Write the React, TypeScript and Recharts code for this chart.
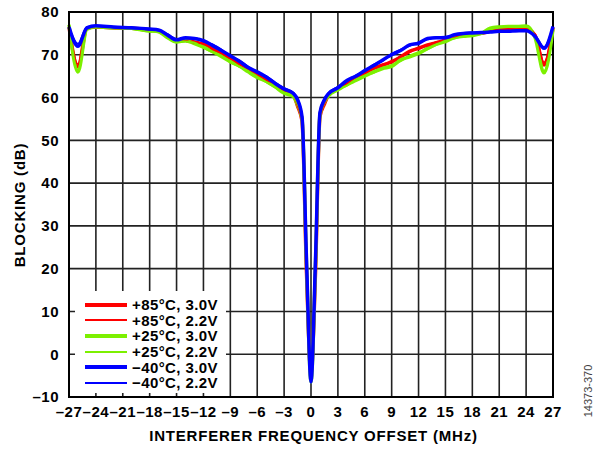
import React from 'react';
import {
  LineChart, Line, XAxis, YAxis, CartesianGrid, Legend, ReferenceArea
} from 'recharts';

const offsetsMHz = [-27, -26, -25, -24, -22, -20, -18, -17, -16, -15, -14, -13, -12, -11, -10, -9, -8, -7, -6, -5, -4, -3, -2, -1.5, -1, -0.5, 0, 0.5, 1, 1.5, 2, 3, 4, 5, 6, 7, 8, 9, 10, 11, 12, 13, 14, 15, 16, 17, 18, 19, 20, 21, 22, 23, 24, 25, 26, 27];

const hot30 = [76.5, 67.2, 76.2, 76.5, 76.3, 76.2, 75.8, 75.5, 74.2, 73.2, 73.4, 73, 72.5, 71.5, 70.2, 69, 68, 66.5, 65.3, 64.3, 63, 61.5, 60.6, 58, 54.5, 19, -4.5, 19, 55.5, 58.5, 60.7, 62, 63.5, 64.5, 65.8, 66.8, 67.5, 68.4, 69.5, 70.8, 71.5, 72.3, 72.8, 73.5, 74.2, 74.6, 74.8, 75, 75.5, 75.8, 75.9, 76, 76, 74.5, 67.6, 76.3];
const hot22 = [76.3, 67.8, 76.2, 76.4, 76.2, 76.1, 75.6, 75.6, 74.4, 73.4, 73.2, 72.8, 72.7, 71.3, 70.4, 69.2, 67.8, 66.7, 65.1, 64.1, 63.2, 61.6, 60.8, 58.2, 54.8, 20, -4, 20, 55.8, 58.8, 60.9, 62.2, 63.3, 64.7, 65.6, 67, 67.8, 68.2, 69.7, 70.6, 71.7, 72.1, 73, 73.4, 74, 74.7, 74.9, 75.1, 75.4, 75.9, 76, 75.9, 76.1, 74.8, 68.2, 76.2];
const room30 = [77, 66, 76, 76.5, 76.3, 76.2, 75.6, 75.4, 74, 73, 73.3, 72.6, 71.8, 70.8, 69.6, 68.4, 67.4, 66, 64.7, 63.8, 62.5, 61, 60.3, 58.3, 55, 21, -6.5, 21, 56, 59, 60.5, 61.8, 63, 64, 65, 66, 66.8, 67.3, 68.8, 69.5, 70.3, 71.5, 72.5, 73.1, 74, 74.3, 74.5, 75, 76.2, 76.5, 76.6, 76.6, 76.7, 74, 65.8, 76];
const room22 = [76.8, 66.5, 76.2, 76.4, 76.2, 76, 75.4, 75.5, 74.2, 73.2, 73.1, 72.8, 71.6, 70.6, 69.8, 68.2, 67.2, 66.2, 64.9, 63.6, 62.4, 61.2, 60.5, 58.6, 55.3, 21.5, -6, 21.5, 56.2, 59.2, 60.6, 62, 62.8, 64.2, 65.2, 65.8, 67, 67.6, 68.5, 69.8, 70.6, 71.3, 72.3, 73.3, 73.8, 74.4, 74.7, 75.2, 76, 76.4, 76.5, 76.5, 76.5, 74.2, 66.2, 75.8];
const cold30 = [76.5, 72, 76.3, 76.8, 76.5, 76.3, 76, 75.8, 74.6, 73.5, 74, 73.8, 73.3, 72.2, 71, 69.8, 68.5, 67, 66, 64.8, 63.3, 62, 61, 59.5, 55.5, 22, -6.5, 22, 56.5, 59.5, 61, 62.3, 64, 65, 66.3, 67.5, 68.8, 70, 71, 72.3, 72.7, 73.8, 74, 74, 74.7, 75, 75.1, 75.2, 75.3, 75.5, 75.5, 75.6, 75.6, 74.3, 71.5, 76.6];
const cold22 = [76.3, 72.6, 76.5, 76.7, 76.4, 76.2, 75.9, 75.7, 74.8, 73.7, 73.8, 73.9, 73.1, 72.4, 71.2, 69.6, 68.7, 67.2, 65.8, 65, 63.5, 62.2, 61.2, 59.7, 55.8, 22.5, -6, 22.5, 56.8, 59.7, 61.2, 62.5, 63.8, 65.2, 66.1, 67.7, 68.6, 70.2, 71.2, 72.1, 72.9, 73.6, 74.1, 74.2, 74.5, 75.1, 75.2, 75.1, 75.4, 75.4, 75.6, 75.5, 75.7, 74.5, 71.8, 76.4];

const xTicks = [-27, -24, -21, -18, -15, -12, -9, -6, -3, 0, 3, 6, 9, 12, 15, 18, 21, 24, 27];
const yTicks = [-10, 0, 10, 20, 30, 40, 50, 60, 70, 80];

const series = [
  { key: 'hot30', name: '+85°C, 3.0V', color: '#ff0000', width: 3.5 },
  { key: 'room30', name: '+25°C, 3.0V', color: '#7cf000', width: 3.5 },
  { key: 'hot22', name: '+85°C, 2.2V', color: '#ff0000', width: 2 },
  { key: 'room22', name: '+25°C, 2.2V', color: '#7cf000', width: 2 },
  { key: 'cold30', name: '\u221240°C, 3.0V', color: '#0000ff', width: 3.5 },
  { key: 'cold22', name: '\u221240°C, 2.2V', color: '#0000ff', width: 2 },
];
const legendOrder = ['hot30', 'hot22', 'room30', 'room22', 'cold30', 'cold22'];

const data = offsetsMHz.map((x, i) => ({
  x,
  hot30: hot30[i], hot22: hot22[i],
  room30: room30[i], room22: room22[i],
  cold30: cold30[i], cold22: cold22[i],
}));

const font = '"Liberation Sans", Arial, sans-serif';
const fmt = (v: number) => (v < 0 ? '\u2013' + Math.abs(v) : String(v));

function LegendBox() {
  return (
    <div style={{ background: '#fff', width: 151, height: 102, paddingTop: 6, boxSizing: 'border-box' }}>
      {legendOrder.map((k) => {
        const s = series.find((d) => d.key === k)!;
        return (
          <div key={k} style={{ display: 'flex', alignItems: 'center', height: 15.6 }}>
            <div style={{ marginLeft: 10, width: 42, height: s.width > 3 ? 3.5 : 2, background: s.color }} />
            <span style={{ marginLeft: 5, fontFamily: font, fontWeight: 700, fontSize: 15, letterSpacing: 0.4, color: '#000', lineHeight: '15px' }}>{s.name}</span>
          </div>
        );
      })}
    </div>
  );
}

export default function App() {
  return (
    <div style={{ position: 'absolute', left: 0, top: 0, width: 599, height: 449, background: '#fff' }}>
      <LineChart width={599} height={449} data={data} margin={{ top: 12, right: 46, bottom: 22, left: 9 }}>
        <CartesianGrid stroke="#222" strokeWidth={1.6} />
        <XAxis
          dataKey="x" type="number" domain={[-27, 27]} ticks={xTicks} interval={0}
          tickFormatter={fmt} tickSize={0} tickMargin={9} height={30}
          axisLine={{ stroke: '#000', strokeWidth: 2 }}
          tick={{ fill: '#000', fontSize: 15, fontWeight: 700, fontFamily: font, letterSpacing: 0.5 }}
        />
        <YAxis
          type="number" domain={[-10, 80]} ticks={yTicks} interval={0}
          tickFormatter={fmt} tickSize={0} tickMargin={10} width={60}
          axisLine={{ stroke: '#000', strokeWidth: 2 }}
          tick={{ fill: '#000', fontSize: 15, fontWeight: 700, fontFamily: font, letterSpacing: 0.5 }}
        />
        <ReferenceArea x1={-27} x2={27} y1={-10} y2={80} fill="none" stroke="#000" strokeWidth={2} ifOverflow="visible" />
        {series.map((s) => (
          <Line key={s.key} type="monotone" dataKey={s.key} name={s.name} stroke={s.color}
            strokeWidth={s.width} dot={false} isAnimationActive={false} />
        ))}
        <Legend layout="vertical" align="center" verticalAlign="middle" content={<LegendBox />}
          wrapperStyle={{ left: 75, top: 291, width: 151, height: 102 }} />
      </LineChart>
      <div style={{ position: 'absolute', left: 0, width: 599, top: 428, textAlign: 'center', paddingLeft: 28, boxSizing: 'border-box', fontFamily: font, fontWeight: 700, fontSize: 15, letterSpacing: 0.8, lineHeight: '16px' }}>
        INTERFERER FREQUENCY OFFSET (MHz)
      </div>
      <div style={{ position: 'absolute', left: 20, top: 205, transform: 'translate(-50%, -50%) rotate(-90deg)', whiteSpace: 'nowrap', fontFamily: font, fontWeight: 700, fontSize: 15, letterSpacing: 0.8, lineHeight: '16px' }}>
        BLOCKING (dB)
      </div>
      <div style={{ position: 'absolute', left: 588, top: 391, transform: 'translate(-50%, -50%) rotate(-90deg)', whiteSpace: 'nowrap', fontFamily: font, fontSize: 11, color: '#444', lineHeight: '12px' }}>
        14373-370
      </div>
    </div>
  );
}
